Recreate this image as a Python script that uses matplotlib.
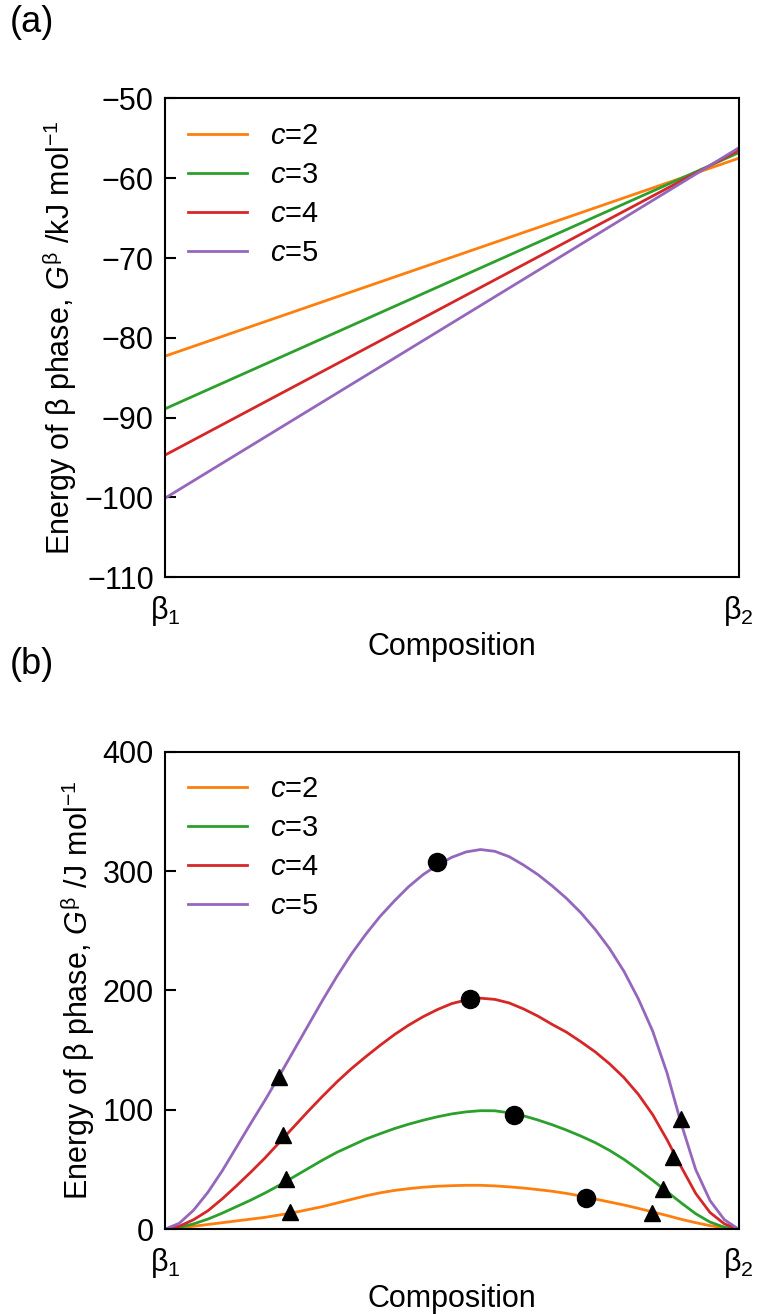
import numpy as np
import matplotlib
matplotlib.use("Agg")
import matplotlib.pyplot as plt

plt.rcParams['font.family'] = ['Liberation Sans', 'DejaVu Sans']
plt.rcParams['mathtext.fontset'] = 'custom'
plt.rcParams['mathtext.rm'] = 'Liberation Sans'
plt.rcParams['mathtext.it'] = 'Liberation Sans:italic'

# legend labels and colours
labels = ['2', '3', '4', '5']
colors = ['#ff7f0e', '#2ca02c', '#d62728', '#9467bd']

# (a) energy of beta phase in kJ/mol at beta1 and beta2
comp_a = [0.0, 1.0]
G_a = [
    [-82.3, -57.5],
    [-88.9, -56.8],
    [-94.7, -56.5],
    [-100.1, -56.2],
]

# (b) energy of beta phase in J/mol
comp_b = [0.0, 0.025, 0.05, 0.075, 0.10, 0.125, 0.15, 0.175, 0.20, 0.225,
          0.25, 0.275, 0.30, 0.325, 0.35, 0.375, 0.40, 0.425, 0.45, 0.475,
          0.50, 0.525, 0.55, 0.575, 0.60, 0.625, 0.65, 0.675, 0.70, 0.725,
          0.75, 0.775, 0.80, 0.825, 0.85, 0.875, 0.90, 0.925, 0.95, 0.975, 1.0]
G_c2 = [0, 1, 2.5, 4, 5.5, 7, 8.5, 10, 12, 14,
        16.5, 19, 22, 25, 28, 30.5, 32.5, 34, 35.2, 36,
        36.5, 36.8, 36.8, 36.3, 35.5, 34.5, 33.2, 31.8, 30, 27.8,
        25.3, 22.8, 20.3, 17.5, 14.5, 11.5, 8.3, 5.5, 3, 1.2, 0]
G_c3 = [0, 1.5, 4.5, 8.5, 13.5, 19, 24.5, 30.5, 37, 44,
        51, 58, 64.5, 70, 75.5, 80, 84.3, 88, 91.3, 94.2,
        96.6, 98.3, 99.3, 99.2, 97.5, 95, 91.5, 87.5, 83, 78,
        72.5, 66, 58.5, 50, 41, 31.5, 22, 13, 6, 1.7, 0]
G_c4 = [0, 2.5, 8, 15.5, 25.5, 36.5, 48, 60, 73, 86,
        99, 111.5, 123.5, 134.5, 144.5, 154, 163, 171, 178, 184,
        189, 192, 193.5, 192.5, 189.5, 184.5, 178.5, 171.5, 165, 157,
        148.5, 138.5, 127, 113, 96, 75, 52, 30, 14, 4.5, 0]
G_c5 = [0, 5, 16, 31, 49, 69, 89, 108.5, 129, 150,
        171, 192, 212, 230.5, 247, 262, 275, 287, 297, 305,
        311.5, 316, 318, 316.5, 312, 305, 297, 287.5, 277, 265,
        251, 235, 216, 193, 166, 131, 88, 50, 24, 8, 0]
G_b = [G_c2, G_c3, G_c4, G_c5]

# circle markers (one per curve)
circ_x = [0.734, 0.609, 0.532, 0.475]
circ_y = [26.5, 95.7, 192.6, 307.4]
# triangle markers, left and right side
tri_x = [0.218, 0.211, 0.205, 0.198, 0.848, 0.868, 0.885, 0.899]
tri_y = [14.8, 41.9, 78.7, 127.3, 13.4, 33.8, 60.8, 92.4]

xticklabels = ['β$_1$', 'β$_2$']
fs = 22

fig = plt.figure(figsize=(7.6, 13.14), dpi=100)
ax1 = fig.add_axes([0.217, 0.5607, 0.755, 0.3644])
ax2 = fig.add_axes([0.217, 0.0645, 0.755, 0.3635])

for i in range(4):
    ax1.plot(comp_a, G_a[i], color=colors[i], lw=2, label='$\\mathit{c}$=' + labels[i])
    ax2.plot(comp_b, G_b[i], color=colors[i], lw=2, label='$\\mathit{c}$=' + labels[i])

ax2.plot(circ_x, circ_y, 'o', color='black', ms=13, zorder=5)
ax2.plot(tri_x, tri_y, '^', color='black', ms=12, zorder=5)

ax1.set_ylim(-110, -50)
ax1.set_yticks(np.arange(-110, -49, 10))
ax1.set_ylabel('Energy of β phase, $\\mathit{G}^{\\mathrm{β}}$ /kJ mol$^{-1}$', fontsize=fs)
ax2.set_ylim(0, 400)
ax2.set_yticks([0, 100, 200, 300, 400])
ax2.set_ylabel('Energy of β phase, $\\mathit{G}^{\\mathrm{β}}$ /J mol$^{-1}$', fontsize=fs)

for ax in (ax1, ax2):
    ax.set_xlim(0, 1)
    ax.set_xticks([0, 1])
    ax.set_xticklabels(xticklabels)
    ax.tick_params(axis='x', length=0, pad=12, labelsize=fs)
    ax.tick_params(axis='y', direction='in', length=8, width=1.5, pad=8, labelsize=fs)
    ax.set_xlabel('Composition', fontsize=fs, labelpad=3)
    for s in ax.spines.values():
        s.set_linewidth(1.5)
    ax.legend(loc='upper left', frameon=False, fontsize=21, handlelength=2.0,
              labelspacing=0.38, borderaxespad=0.4)

fig.text(0.013, 0.983, '(a)', fontsize=26, va='center')
fig.text(0.013, 0.494, '(b)', fontsize=26, va='center')

fig.savefig('out.png', dpi=100)
